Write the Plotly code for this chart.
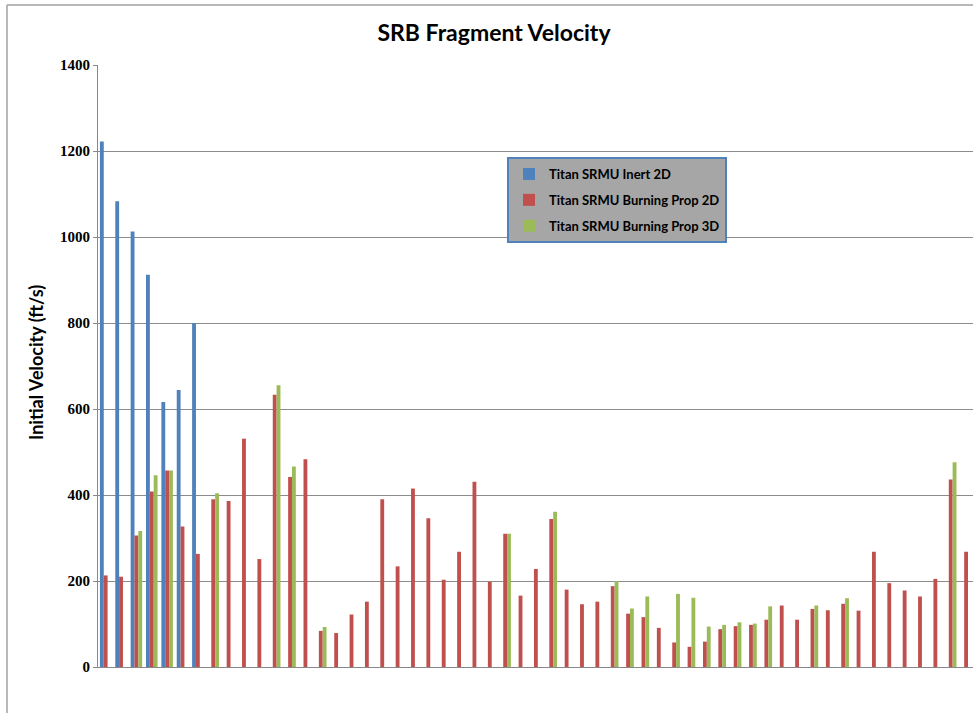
import plotly.graph_objects as go

# ---- data ----
fragments = [1, 2, 3, 4, 5, 6, 7, 8, 9, 10, 11, 12, 13, 14, 15, 16, 17, 18, 19, 20,
             21, 22, 23, 24, 25, 26, 27, 28, 29, 30, 31, 32, 33, 34, 35, 36, 37, 38, 39, 40,
             41, 42, 43, 44, 45, 46, 47, 48, 49, 50, 51, 52, 53, 54, 55, 56, 57]

inert_2d = [1222, 1083, 1013, 912, 616, 644, 800, None, None, None,
            None, None, None, None, None, None, None, None, None, None,
            None, None, None, None, None, None, None, None, None, None,
            None, None, None, None, None, None, None, None, None, None,
            None, None, None, None, None, None, None, None, None, None,
            None, None, None, None, None, None, None]

burning_2d = [213, 210, 306, 408, 457, 327, 263, 390, 386, 531,
              251, 633, 442, 483, 84, 79, 122, 152, 390, 234,
              415, 346, 203, 268, 431, 198, 310, 166, 228, 344,
              180, 146, 152, 188, 124, 116, 91, 57, 47, 59,
              88, 95, 98, 110, 143, 110, 135, 132, 147, 131,
              268, 195, 178, 164, 205, 436, 268]

burning_3d = [None, None, 316, 446, 457, None, None, 404, None, None,
              None, 655, 466, None, 93, None, None, None, None, None,
              None, None, None, None, None, None, 310, None, None, 361,
              None, None, None, 200, 136, 164, None, 170, 161, 94,
              98, 104, 101, 141, None, None, 143, None, 160, None,
              None, None, None, None, None, 476, None]

series_names = ["Titan SRMU Inert 2D", "Titan SRMU Burning Prop 2D", "Titan SRMU Burning Prop 3D"]
series_colors = ["#4F81BD", "#C0504D", "#9BBB59"]
y_ticks = [0, 200, 400, 600, 800, 1000, 1200, 1400]

fig = go.Figure()
for i, (name, vals, col) in enumerate(zip(series_names, [inert_2d, burning_2d, burning_3d], series_colors)):
    fig.add_trace(go.Bar(x=fragments, y=vals, name=name, marker_color=col,
                         marker_line_width=0, legendgroup="g%d" % i))

W, H = 973, 713
L, R, T, B = 98, 0, 65, 46
PW, PH = W - L - R, H - T - B

fig.update_layout(
    width=W, height=H,
    margin=dict(l=L, r=R, t=T, b=B, pad=0),
    paper_bgcolor="white", plot_bgcolor="white",
    barmode="group", bargap=0.25, bargroupgap=0,
    title=dict(text="<b>SRB Fragment Velocity</b>", x=494 / W, xanchor="center",
               y=1 - 33 / H, yanchor="middle", xref="container", yref="container",
               font=dict(family="Lato, Open Sans, sans-serif", size=23, color="black")),
    xaxis=dict(range=[0.5, 57.45], showgrid=False, zeroline=False, showticklabels=False,
               ticks="", showline=True, linecolor="#888888", linewidth=1, fixedrange=True),
    yaxis=dict(range=[0, 1400], tickvals=y_ticks, showgrid=True, gridcolor="#8C8C8C", gridwidth=1,
               zeroline=False, showline=True, linecolor="#888888", linewidth=1,
               ticks="outside", ticklen=4, tickcolor="#888888",
               tickfont=dict(family="Liberation Serif, DejaVu Serif, serif", size=15, color="black", weight="bold")),
    legend=dict(x=(507 - L) / PW, y=(667 - 157) / PH, xanchor="left", yanchor="top",
                bgcolor="#A6A6A6", bordercolor="#4F81BD", borderwidth=2,
                traceorder="grouped", tracegroupgap=6,
                font=dict(family="Lato, Open Sans, sans-serif", size=13, color="black", weight="bold")),
    showlegend=True,
    annotations=[dict(text="<b>Initial Velocity (ft/s)</b>", textangle=-90,
                      xref="paper", yref="paper", x=(36 - L) / PW, y=(667 - 363) / PH,
                      xanchor="center", yanchor="middle", showarrow=False,
                      font=dict(family="Lato, Open Sans, sans-serif", size=18, color="black"))],
    shapes=[
        dict(type="line", xref="paper", yref="paper",
             x0=(7 - L) / PW, x1=1.05, y0=1 + (T - 5) / PH, y1=1 + (T - 5) / PH,
             line=dict(color="#A0A0A0", width=1.5)),
        dict(type="line", xref="paper", yref="paper",
             x0=(7 - L) / PW, x1=(7 - L) / PW, y0=1 + (T - 5) / PH, y1=-0.1,
             line=dict(color="#A0A0A0", width=1.5)),
    ],
)

fig.write_html("out.html", config={"displayModeBar": False},
               post_script="document.body.style.margin='0px';document.body.style.overflow='hidden';")
